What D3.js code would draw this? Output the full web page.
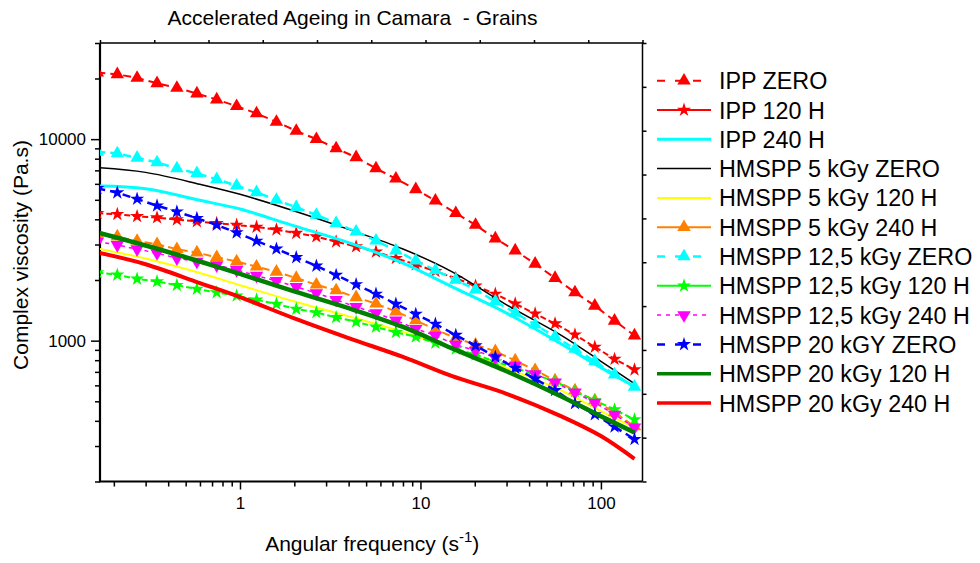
<!DOCTYPE html>
<meta charset="utf-8">

<style type="text/css">
	body {
		margin: 0;
		background: #fff;
	}
	svg {
		font-family: "Liberation Sans", Arial, sans-serif;
	}
	.axis line {
		stroke: #000;
		stroke-width: 1.5px;
	}
	.axis text {
		font-size: 17px;
		fill: #000;
	}
	.frame {
		fill: none;
		stroke: #000;
	}
	.legend text {
		font-size: 23.3px;
		fill: #000;
	}
	.title {
		font-size: 21px;
	}
	.label {
		font-size: 21px;
	}
</style>

<body>
</body>

<script src="https://cdn.jsdelivr.net/npm/d3@7"></script>

<script>

	// angular frequency (rad/s) of the measured points
	var freq = [0.162, 0.209, 0.269, 0.347, 0.447, 0.577, 0.743, 0.958, 1.235, 1.592,
		2.05, 2.65, 3.41, 4.40, 5.67, 7.31, 9.42, 12.1, 15.7, 20.2,
		26.0, 33.5, 43.2, 55.7, 71.8, 92.5, 119, 153.5];
	// frequencies read for the plain (no symbol) curves
	var lineFreq = [0.162, 0.3, 0.6, 1, 2, 4, 8, 15, 30, 60, 100, 153.5];

	// complex viscosity (Pa.s)
	var ippZero = [21400, 20980, 20120, 18930, 17950, 16840, 15730, 14570, 13410, 12180,
		10990, 10000, 8995, 8120, 7160, 6360, 5640, 4950, 4290, 3750,
		3210, 2800, 2405, 2045, 1735, 1490, 1255, 1060];
	var ipp120 = [4290, 4240, 4140, 4080, 3985, 3905, 3825, 3750, 3665, 3555,
		3415, 3285, 3100, 2930, 2760, 2565, 2385, 2210, 2040, 1870,
		1705, 1525, 1360, 1215, 1070, 930, 810, 718];
	var ipp240 = [5850, 5675, 4970, 4500, 3710, 3065, 2425, 1850, 1370, 965, 735, 592];
	var hm5Zero = [7225, 6840, 5970, 5325, 4400, 3565, 2850, 2195, 1505, 1065, 790, 612];
	var hm5_120 = [2870, 2555, 2165, 1885, 1565, 1320, 1105, 913, 732, 567, 447, 369];
	var hm5_240 = [3385, 3285, 3125, 3010, 2845, 2735, 2595, 2470, 2330, 2195,
		2045, 1895, 1775, 1640, 1525, 1395, 1260, 1135, 1030, 955,
		885, 796, 714, 634, 566, 505, 440, 375];
	var hm125Zero = [8650, 8495, 8080, 7665, 7160, 6765, 6315, 5875, 5445, 4990,
		4590, 4205, 3825, 3475, 3135, 2800, 2495, 2230, 2005, 1790,
		1565, 1375, 1200, 1047, 910, 790, 679, 590];
	var hm125_120 = [2180, 2120, 2025, 1965, 1885, 1805, 1735, 1670, 1595, 1520,
		1435, 1380, 1305, 1240, 1170, 1100, 1045, 974, 910, 852,
		787, 731, 679, 627, 559, 505, 455, 406];
	var hm125_240 = [3100, 2985, 2845, 2720, 2565, 2470, 2370, 2245, 2100, 1980,
		1850, 1720, 1595, 1470, 1370, 1260, 1145, 1060, 955, 892,
		824, 752, 683, 620, 553, 493, 430, 371];
	var hm20Zero = [5700, 5425, 5045, 4675, 4365, 4050, 3750, 3435, 3125, 2855,
		2590, 2350, 2115, 1900, 1705, 1520, 1355, 1210, 1065, 945,
		830, 732, 646, 567, 488, 430, 374, 324];
	var hm20_120 = [3445, 2965, 2470, 2145, 1755, 1450, 1170, 915, 705, 530, 422, 350];
	var hm20_240 = [2740, 2395, 1930, 1645, 1290, 1030, 830, 666, 545, 422, 336, 259];

	var names = ["IPP ZERO", "IPP 120 H", "IPP 240 H", "HMSPP 5 kGy ZERO", "HMSPP 5 kGy 120 H",
		"HMSPP 5 kGy 240 H", "HMSPP 12,5 kGy ZERO", "HMSPP 12,5 kGy 120 H", "HMSPP 12,5 kGy 240 H",
		"HMSPP 20 kGY ZERO", "HMSPP 20 kGy 120 H", "HMSPP 20 kGy 240 H"];

	var xMajor = [1, 10, 100];
	var xMinor = [0.2, 0.3, 0.4, 0.5, 0.6, 0.7, 0.8, 0.9, 2, 3, 4, 5, 6, 7, 8, 9,
		20, 30, 40, 50, 60, 70, 80, 90];
	var yMajor = [1000, 10000];
	var yMinor = [200, 300, 400, 500, 600, 700, 800, 900, 2000, 3000, 4000, 5000,
		6000, 7000, 8000, 9000, 20000, 30000];

	// styles, same order as names
	var styles = [
		{x: freq, y: ippZero, color: "#ff0000", width: 2, dash: "8,5", legendDash: "8,10", symbol: "up"},
		{x: freq, y: ipp120, color: "#ff0000", width: 2, dash: "6,3", legendDash: null, symbol: "star"},
		{x: lineFreq, y: ipp240, color: "#00ffff", width: 3, dash: null, symbol: null},
		{x: lineFreq, y: hm5Zero, color: "#000000", width: 1.5, dash: null, symbol: null},
		{x: lineFreq, y: hm5_120, color: "#ffff00", width: 2, dash: null, symbol: null},
		{x: freq, y: hm5_240, color: "#ff8000", width: 2, dash: "8,4", legendDash: null, symbol: "up"},
		{x: freq, y: hm125Zero, color: "#00ffff", width: 2.5, dash: "8,5", legendDash: "8,10", symbol: "up"},
		{x: freq, y: hm125_120, color: "#00ff00", width: 2, dash: "6,3", legendDash: null, symbol: "star"},
		{x: freq, y: hm125_240, color: "#ff00ff", width: 1.5, dash: "4,4", legendDash: "4,5", symbol: "down"},
		{x: freq, y: hm20Zero, color: "#0000ff", width: 2.5, dash: "8,5", legendDash: "8,10", symbol: "star"},
		{x: lineFreq, y: hm20_120, color: "#008000", width: 4.5, dash: null, symbol: null},
		{x: lineFreq, y: hm20_240, color: "#ff0000", width: 4, dash: null, symbol: null}
	];

	var margin = {top: 43, right: 337.5, bottom: 81.5, left: 100};
	var width = 980 - margin.left - margin.right;
	var height = 563 - margin.top - margin.bottom;

	var svgRoot = d3.select("body").append("svg")
		.attr("width", 980)
		.attr("height", 563);

	var svg = svgRoot.append("g")
		.attr("transform", "translate(" + margin.left + "," + margin.top + ")");

	var xScale = d3.scaleLog()
		.domain([0.1676, 170])
		.range([0, width]);

	var yScale = d3.scaleLog()
		.domain([200, 30000])
		.range([height, 0]);

	// linear scales for the unlabeled top / right ticks
	var topScale = d3.scaleLinear().domain([0, 10]).range([0, width]);
	var rightScale = d3.scaleLinear().domain([0, 10]).range([height, 0]);

	svg.append("clipPath")
		.attr("id", "plot-clip")
		.append("rect")
		.attr("width", width)
		.attr("height", height);

	// axes
	svg.append("g")
		.attr("class", "x axis")
		.attr("transform", "translate(0," + height + ")")
		.call(d3.axisBottom(xScale).tickValues(xMajor).tickSize(8).tickSizeOuter(0).tickPadding(7)
			.tickFormat(d3.format("d")));
	svg.append("g")
		.attr("class", "x axis minor")
		.attr("transform", "translate(0," + height + ")")
		.call(d3.axisBottom(xScale).tickValues(xMinor).tickSize(5).tickSizeOuter(0).tickFormat(""));

	svg.append("g")
		.attr("class", "y axis")
		.call(d3.axisLeft(yScale).tickValues(yMajor).tickSize(9).tickSizeOuter(0).tickPadding(5)
			.tickFormat(d3.format("d")));
	svg.append("g")
		.attr("class", "y axis minor")
		.call(d3.axisLeft(yScale).tickValues(yMinor).tickSize(5).tickSizeOuter(0).tickFormat(""));

	svg.append("g")
		.attr("class", "axis")
		.call(d3.axisTop(topScale).ticks(10).tickSize(3).tickSizeOuter(0).tickFormat(""));
	svg.append("g")
		.attr("class", "axis")
		.attr("transform", "translate(" + width + ",0)")
		.call(d3.axisRight(rightScale).ticks(10).tickSize(4).tickSizeOuter(0).tickFormat(""));

	svg.selectAll(".axis .domain").remove();

	// frame
	svg.append("path")
		.attr("class", "frame")
		.attr("stroke-width", 1.5)
		.attr("d", "M0,0H" + width + "V" + height);
	svg.append("path")
		.attr("class", "frame")
		.attr("stroke-width", 2.2)
		.attr("d", "M0,0V" + height + "H" + width);

	// series
	var plot = svg.append("g").attr("clip-path", "url(#plot-clip)");

	function symbolPath(s) {
		if (s == "star") return d3.symbol().type(d3.symbolStar).size(62)();
		return d3.symbol().type(d3.symbolTriangle).size(78)();
	}

	styles.forEach(function(s, i) {
		var pts = s.x.map(function(f, j) { return {f: f, v: s.y[j]}; });

		var line = d3.line()
			.x(function(d) { return xScale(d.f); })
			.y(function(d) { return yScale(d.v); })
			.curve(s.symbol ? d3.curveLinear : d3.curveCatmullRom.alpha(0.5));

		plot.append("path")
			.datum(pts)
			.attr("fill", "none")
			.attr("stroke", s.color)
			.attr("stroke-width", s.width)
			.attr("stroke-dasharray", s.dash)
			.attr("d", line);

		if (s.symbol) {
			plot.selectAll(".sym" + i)
				.data(pts)
				.enter()
				.append("path")
				.attr("class", "sym" + i)
				.attr("d", symbolPath(s.symbol))
				.attr("fill", s.color)
				.attr("transform", function(d) {
					return "translate(" + xScale(d.f) + "," + yScale(d.v) + ")" +
						(s.symbol == "down" ? " rotate(180)" : "");
				});
		}
	});

	// legend
	var legend = svgRoot.append("g")
		.attr("class", "legend")
		.attr("transform", "translate(657,80.7)");

	var rowH = 29.3;

	styles.forEach(function(s, i) {
		var row = legend.append("g")
			.attr("transform", "translate(0," + (i * rowH) + ")");

		row.append("line")
			.attr("x1", 0)
			.attr("x2", 54)
			.attr("stroke", s.color)
			.attr("stroke-width", Math.min(s.width, 3.5))
			.attr("stroke-dasharray", s.symbol ? s.legendDash : null);

		if (s.symbol) {
			row.append("path")
				.attr("d", symbolPath(s.symbol))
				.attr("fill", s.color)
				.attr("transform", "translate(27,0)" + (s.symbol == "down" ? " rotate(180)" : ""));
		}

		row.append("text")
			.attr("x", 62)
			.attr("y", 8.5)
			.text(names[i]);
	});

	// titles
	svgRoot.append("text")
		.attr("class", "title")
		.attr("x", 352.5)
		.attr("y", 25)
		.attr("text-anchor", "middle")
		.text("Accelerated Ageing in Camara  - Grains")
		.style("white-space", "pre");

	var xl = svgRoot.append("text")
		.attr("class", "label")
		.attr("x", margin.left + width / 2 + 1)
		.attr("y", 551)
		.attr("text-anchor", "middle");
	xl.append("tspan").text("Angular frequency (s");
	xl.append("tspan").attr("dy", -9).attr("font-size", "15px").text("-1");
	xl.append("tspan").attr("dy", 9).text(")");

	svgRoot.append("text")
		.attr("class", "label")
		.attr("transform", "translate(28,255) rotate(-90)")
		.attr("text-anchor", "middle")
		.text("Complex viscosity (Pa.s)");

</script>
